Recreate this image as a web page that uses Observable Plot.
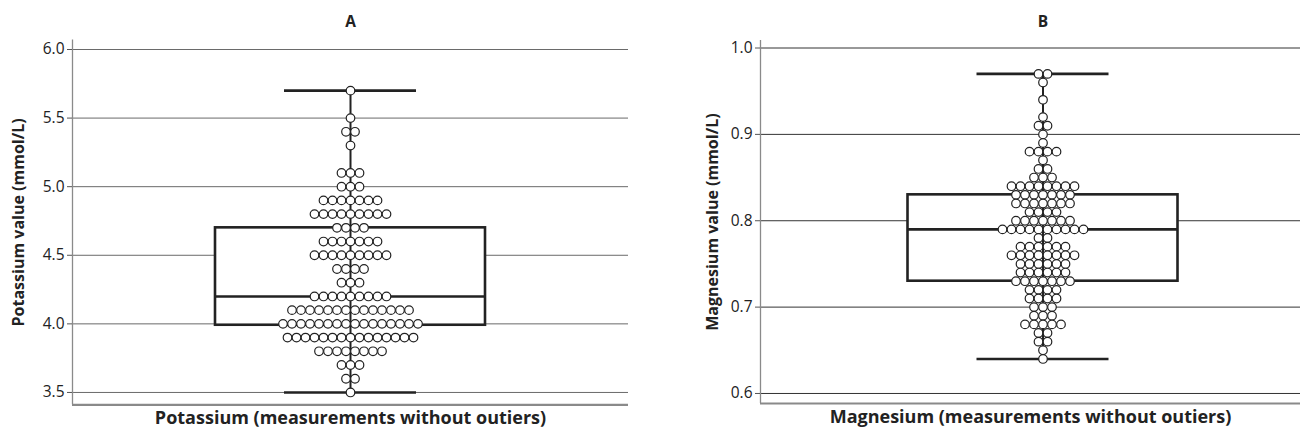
<!DOCTYPE html>
<html>
<head>
<meta charset="utf-8">
<script src="https://cdn.jsdelivr.net/npm/d3@7"></script>
<script src="https://cdn.jsdelivr.net/npm/@observablehq/plot@0.6"></script>
<style>
  html, body { margin: 0; padding: 0; background: #fff; }
  #wrap { display: flex; width: 1310px; height: 439px; }
</style>
</head>
<body>
<div id="wrap"></div>
<script>
// ---- Panel A: Potassium ----
const kValues = [5.7, 5.5, 5.4, 5.3, 5.1, 5.0, 4.9, 4.8, 4.7, 4.6, 4.5, 4.4, 4.3, 4.2, 4.1, 4.0, 3.9, 3.8, 3.7, 3.6, 3.5];
const kCounts = [1, 1, 2, 1, 3, 3, 7, 9, 4, 7, 9, 4, 3, 9, 14, 16, 15, 8, 3, 2, 1];
const kStats = [3.5, 3.99, 4.2, 4.7, 5.7]; // min, q1, median, q3, max
const kTicks = [3.5, 4.0, 4.5, 5.0, 5.5, 6.0];

// ---- Panel B: Magnesium ----
const mValues = [0.97, 0.96, 0.94, 0.92, 0.91, 0.90, 0.89, 0.88, 0.87, 0.86, 0.85, 0.84, 0.83, 0.82, 0.81, 0.80,
                 0.79, 0.78, 0.77, 0.76, 0.75, 0.74, 0.73, 0.72, 0.71, 0.70, 0.69, 0.68, 0.67, 0.66, 0.65, 0.64];
const mCounts = [2, 1, 1, 1, 2, 1, 1, 4, 1, 2, 3, 8, 7, 7, 4, 7,
                 10, 2, 6, 8, 6, 6, 7, 4, 4, 3, 3, 5, 2, 2, 1, 1];
const mStats = [0.64, 0.73, 0.79, 0.83, 0.97];
const mTicks = [0.6, 0.7, 0.8, 0.9, 1.0];

const titles = ["A", "B"];
const xTitles = ["Potassium (measurements without outiers)", "Magnesium (measurements without outiers)"];
const yTitles = ["Potassium value (mmol/L)", "Magnesium value (mmol/L)"];

// style constants
const DOT_STEP = 9;
const BOX_HALF = 135;
const CAP_HALF = 66;
const FONT = "'Open Sans', 'Noto Sans', sans-serif";

function swarm(values, counts) {
  const out = [];
  values.forEach((v, i) => {
    const n = counts[i];
    for (let j = 0; j < n; j++) out.push({value: v, off: (j - (n - 1) / 2) * DOT_STEP});
  });
  return out;
}

function panel(cfg) {
  const [mn, q1, med, q3, mx] = cfg.stats;
  const dots = swarm(cfg.values, cfg.counts);
  return Plot.plot({
    width: 655,
    height: 439,
    marginLeft: cfg.ml,
    marginRight: cfg.mr,
    marginTop: cfg.mt,
    marginBottom: cfg.mb,
    style: {fontFamily: FONT, fontSize: "15px", color: "#222", background: "white", overflow: "visible"},
    x: {domain: cfg.xdom, axis: null},
    y: {domain: cfg.ydom, axis: null},
    marks: [
      Plot.ruleY(cfg.ticks, {stroke: cfg.grid, strokeWidth: 1}),
      Plot.ruleX([cfg.xdom[0]], {stroke: "#8a8a8a", strokeWidth: 1.3}),
      Plot.ruleY([cfg.ydom[0]], {stroke: "#8a8a8a", strokeWidth: 2.2}),
      Plot.axisY({ticks: cfg.ticks, tickFormat: d3.format(".1f"), tickSize: 5, tickPadding: 3,
                  label: null, fontSize: 15.5, stroke: "#555"}),
      Plot.rect([0], {x1: -BOX_HALF, x2: BOX_HALF, y1: q1, y2: q3, fill: "white", stroke: "#222", strokeWidth: 2.6}),
      Plot.ruleX([0], {y1: mn, y2: mx, stroke: "#222", strokeWidth: 2}),
      Plot.ruleY([med], {x1: -BOX_HALF, x2: BOX_HALF, stroke: "#222", strokeWidth: 2.6}),
      Plot.ruleY([mn, mx], {x1: -CAP_HALF, x2: CAP_HALF, stroke: "#222", strokeWidth: 2.6}),
      Plot.dot(dots, {x: "off", y: "value", r: 4.3, fill: "white", stroke: "#222", strokeWidth: 1.2}),
      Plot.text([cfg.title], {x: 0, frameAnchor: "top", dy: -cfg.mt + 15, fontWeight: "bold", fontSize: 15.5}),
      Plot.text([cfg.xTitle], {frameAnchor: "bottom", dy: 19, fontWeight: "bold", fontSize: 18}),
      Plot.text([cfg.yTitle], {frameAnchor: "left", textAnchor: "middle", rotate: -90, dx: -cfg.yTitleOff,
                               fontWeight: "bold", fontSize: 16})
    ]
  });
}

const wrap = document.getElementById("wrap");
wrap.append(panel({
  values: kValues, counts: kCounts, stats: kStats, ticks: kTicks,
  title: titles[0], xTitle: xTitles[0], yTitle: yTitles[0],
  ml: 72, mr: 27, mt: 39.4, mb: 34.7,
  xdom: [-278, 278], ydom: [3.41, 6.07],
  grid: "#6a6a6a", yTitleOff: 54
}));
wrap.append(panel({
  values: mValues, counts: mCounts, stats: mStats, ticks: mTicks,
  title: titles[1], xTitle: xTitles[1], yTitle: yTitles[1],
  ml: 105, mr: 10, mt: 40, mb: 36,
  xdom: [-282.5, 257.5], ydom: [0.5884, 1.0087],
  grid: "#333", yTitleOff: 48
}));
</script>
</body>
</html>
